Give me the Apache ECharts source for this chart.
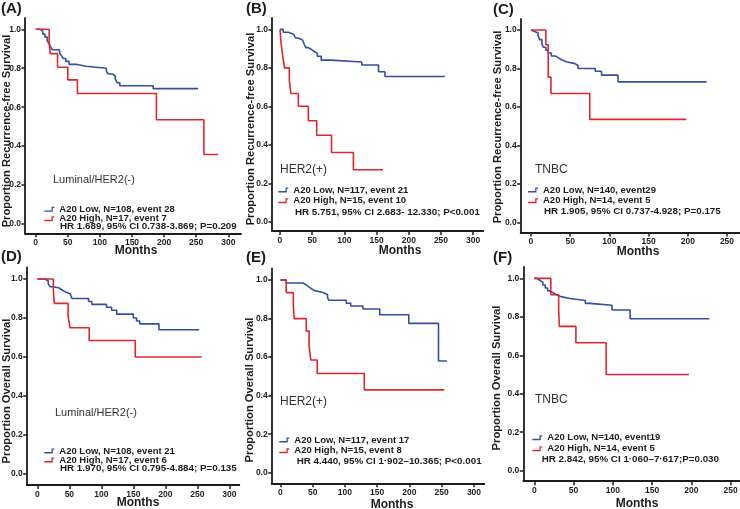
<!DOCTYPE html>
<html>
<head>
<meta charset="utf-8">
<script src="https://cdn.jsdelivr.net/npm/echarts@6/dist/echarts.min.js"></script>
<style>
  html, body { margin: 0; padding: 0; background: #fff; }
  #main { width: 740px; height: 509px; }
</style>
</head>
<body>
<div id="main"></div>
<script>
// tick values
const xTicks300 = [0, 50, 100, 150, 200, 250, 300]
const xTicks250 = [0, 50, 100, 150, 200, 250]
const yTicks = [0, 0.2, 0.4, 0.6, 0.8, 1.0]

// Kaplan-Meier steps [months, survival]
// (A) recurrence-free, Luminal/HER2(-)
const lowA = [[0, 1], [7, 0.99], [11, 0.975], [14.5, 0.96], [18, 0.94], [21, 0.925], [23, 0.91], [26, 0.895], [37, 0.88], [40, 0.865], [43, 0.85], [47, 0.835], [52, 0.82], [63, 0.81], [78, 0.80], [110, 0.785], [113, 0.77], [120, 0.76], [124, 0.745], [127, 0.725], [131, 0.71], [183, 0.695], [253, 0.695]]
const highA = [[0, 1], [21, 0.94], [22.5, 0.875], [34, 0.805], [50, 0.74], [65, 0.67], [188, 0.535], [262, 0.357], [284, 0.357]]
// (B) recurrence-free, HER2(+)
const lowB = [[0, 1], [5, 0.985], [13, 0.975], [21, 0.965], [24, 0.955], [28, 0.945], [35, 0.935], [38, 0.92], [40, 0.905], [44, 0.895], [49, 0.885], [53, 0.875], [58, 0.86], [64, 0.84], [79, 0.83], [127, 0.815], [153, 0.78], [163, 0.755], [256, 0.755]]
const highB = [[0, 1], [1.5, 0.933], [4, 0.867], [7, 0.80], [14.5, 0.733], [17, 0.667], [28.5, 0.60], [44, 0.525], [57, 0.45], [80, 0.36], [114, 0.27], [160, 0.27]]
// (C) recurrence-free, TNBC
const lowC = [[0, 1], [2, 0.99], [6, 0.985], [9, 0.97], [11, 0.95], [14, 0.925], [16, 0.91], [19, 0.895], [22, 0.88], [26, 0.865], [31, 0.855], [35, 0.845], [39, 0.835], [45, 0.825], [56, 0.815], [60, 0.80], [82, 0.785], [90, 0.765], [111, 0.73], [224, 0.73]]
const highC = [[0, 1], [19, 0.923], [22, 0.755], [25.5, 0.67], [75, 0.535], [198, 0.535]]
// (D) overall, Luminal/HER2(-)
const lowD = [[0, 1], [12, 0.99], [17, 0.975], [20, 0.96], [24, 0.955], [33, 0.945], [38, 0.935], [43, 0.925], [51, 0.915], [54, 0.90], [80, 0.885], [85, 0.87], [108, 0.855], [116, 0.84], [124, 0.82], [150, 0.80], [155, 0.785], [160, 0.77], [190, 0.74], [253, 0.74]]
const highD = [[0, 1], [25, 0.94], [26.5, 0.875], [48, 0.81], [51, 0.75], [81, 0.685], [153, 0.60], [257, 0.60]]
// (E) overall, HER2(+)
const lowE = [[0, 1], [9, 0.985], [35, 0.975], [40, 0.965], [44, 0.955], [48, 0.945], [53, 0.935], [66, 0.925], [73, 0.91], [75, 0.895], [102, 0.88], [109, 0.865], [128, 0.85], [154, 0.82], [199, 0.775], [245, 0.58], [258, 0.58]]
const highE = [[0, 1], [9, 0.935], [20, 0.867], [21.5, 0.80], [40, 0.735], [44.5, 0.66], [47, 0.585], [57, 0.515], [130, 0.43], [254, 0.43]]
// (F) overall, TNBC
const lowF = [[0, 1], [3, 0.99], [7, 0.98], [11, 0.965], [14, 0.95], [17, 0.935], [20, 0.925], [24, 0.915], [28.5, 0.905], [34, 0.895], [45.5, 0.885], [65, 0.87], [71, 0.86], [99, 0.835], [122, 0.79], [223, 0.79]]
const highF = [[0, 1], [21, 0.915], [31, 0.835], [32, 0.75], [53, 0.665], [91.5, 0.50], [197, 0.50]]

const panelLetters = ['(A)', '(B)', '(C)', '(D)', '(E)', '(F)']
const subtypes = ['Luminal/HER2(-)', 'HER2(+)', 'TNBC', 'Luminal/HER2(-)', 'HER2(+)', 'TNBC']
const yTitles = ['Proportion Recurrence-free Survival', 'Proportion Recurrence-free Survival', 'Proportion Recurrence-free Survival',
  'Proportion Overall Survival', 'Proportion Overall Survival', 'Proportion Overall Survival']
const lowLabels = ['A20 Low, N=108, event 28', 'A20 Low, N=117, event 21', 'A20 Low, N=140, event29',
  'A20 Low, N=108, event 21', 'A20 Low, N=117, event 17', 'A20 Low, N=140, event19']
const highLabels = ['A20 High, N=17, event 7', 'A20 High, N=15, event 10', 'A20 High, N=14, event 5',
  'A20 High, N=17, event 6', 'A20 High, N=15, event 8', 'A20 High, N=14, event 5']
const hrLabels = ['HR 1.689, 95% CI 0.738-3.869; P=0.209', 'HR 5.751, 95% CI 2.683- 12.330; P<0.001', 'HR 1.905, 95% CI 0.737-4.928; P=0.175',
  'HR 1.970, 95% CI 0.795-4.884; P=0.135', 'HR 4.440, 95% CI 1·902–10.365; P<0.001', 'HR 2.842, 95% CI 1·060–7·617;P=0.030']
const lowSeries = [lowA, lowB, lowC, lowD, lowE, lowF]
const highSeries = [highA, highB, highC, highD, highE, highF]

const FONT = 'Arial, "Liberation Sans", Helvetica, sans-serif'
const BLUE = '#31509f'
const RED = '#e2262d'
const INK = '#1c1c1c'

// layout of each panel (pixels) and axis spans
const panels = [
  { grid: [25, 18, 216, 215.3], xr: [-16.7, 319.8], yr: [-0.048, 1.058], xt: xTicks300,
    letter: [1, 9], yt: [7, 131], mo: [136, 251], sub: [53, 180], subSize: 11, leg: [59.3, 209.3, 218.7], hr: [60, 226] },
  { grid: [272, 18, 211.3, 213], xr: [-12.4, 315.7], yr: [-0.048, 1.059], xt: xTicks300,
    letter: [246, 9], yt: [251, 129], mo: [400, 251], sub: [280, 170], subSize: 12, leg: [293.3, 190, 200.7], hr: [295, 212] },
  { grid: [520.7, 19, 219.3, 213.5], xr: [-13.1, 266.6], yr: [-0.053, 1.057], xt: xTicks250,
    letter: [493, 10], yt: [498, 127], mo: [638, 252], sub: [535, 170], subSize: 12, leg: [543, 190, 200.7], hr: [544, 211.3] },
  { grid: [26.7, 267.5, 212.6, 217.5], xr: [-16.7, 315.6], yr: [-0.056, 1.059], xt: xTicks300,
    letter: [1, 257], yt: [7, 391], mo: [138, 503], sub: [55, 413], subSize: 11, leg: [59.3, 451, 460], hr: [60, 468] },
  { grid: [271.7, 268.5, 212.6, 214.8], xr: [-13.5, 316], yr: [-0.055, 1.06], xt: xTicks300,
    letter: [246, 258], yt: [250, 390], mo: [392, 505], sub: [280, 402], subSize: 12, leg: [294.3, 440, 450.7], hr: [296.7, 461.3] },
  { grid: [523.3, 267, 216.7, 214.2], xr: [-14, 262], yr: [-0.055, 1.059], xt: xTicks250,
    letter: [493, 258], yt: [497, 378], mo: [637, 504], sub: [535, 400], subSize: 12, leg: [547.3, 437.7, 448.7], hr: [541.7, 459.3] }
]

const legendNames = {}
const grids = []
const xAxes = []
const yAxes = []
const series = []
const legends = []
const graphics = []

const stepIcon = 'path://M0,3.6 L7.2,3.6 L7.2,0 L10,0 L10,1.3 L8.5,1.3 L8.5,5 L0,5 Z'

panels.forEach((p, i) => {
  grids.push({ left: p.grid[0], top: p.grid[1], width: p.grid[2], height: p.grid[3], outerBoundsMode: 'none' })
  xAxes.push({
    type: 'value', gridIndex: i, min: p.xr[0], max: p.xr[1],
    axisLine: { show: true, onZero: false, lineStyle: { color: INK, width: 1.8 } },
    axisTick: { show: true, customValues: p.xt, length: 4, lineStyle: { color: INK, width: 1.5 } },
    axisLabel: { customValues: p.xt, margin: 5, fontSize: 8.5, fontWeight: 'bold', color: INK, fontFamily: FONT },
    splitLine: { show: false }
  })
  yAxes.push({
    type: 'value', gridIndex: i, min: p.yr[0], max: p.yr[1],
    axisLine: { show: true, onZero: false, lineStyle: { color: INK, width: 1.8 } },
    axisTick: { show: true, customValues: yTicks, length: 3.5, lineStyle: { color: INK, width: 1.5 } },
    axisLabel: { customValues: yTicks, margin: 4, fontSize: 8.5, fontWeight: 'bold', color: INK, fontFamily: FONT,
      formatter: v => v.toFixed(1) },
    splitLine: { show: false }
  })
  const lowName = 'low' + i
  const highName = 'high' + i
  legendNames[lowName] = lowLabels[i]
  legendNames[highName] = highLabels[i]
  series.push({
    name: lowName, type: 'line', xAxisIndex: i, yAxisIndex: i, data: lowSeries[i], step: 'end',
    symbol: 'none', lineStyle: { color: BLUE, width: 1.6 }, itemStyle: { color: BLUE }, silent: true
  })
  series.push({
    name: highName, type: 'line', xAxisIndex: i, yAxisIndex: i, data: highSeries[i], step: 'end',
    symbol: 'none', lineStyle: { color: RED, width: 1.6 }, itemStyle: { color: RED }, silent: true
  })
  const rowGap = p.leg[2] - p.leg[1]
  legends.push({
    orient: 'vertical', left: p.leg[0] - 15, top: p.leg[1] - 5, padding: 0,
    itemWidth: 10, itemHeight: 5, itemGap: rowGap - 10, icon: stepIcon, selectedMode: false,
    itemStyle: { borderWidth: 0 },
    data: [lowName, highName],
    formatter: name => legendNames[name],
    textStyle: { fontSize: 9.5, fontWeight: 'bold', color: INK, fontFamily: FONT, lineHeight: 10 }
  })
  graphics.push(
    { type: 'text', x: p.letter[0], y: p.letter[1],
      style: { text: panelLetters[i], fontSize: 15, fontWeight: 'bold', fontFamily: FONT, fill: INK, textAlign: 'left', textVerticalAlign: 'middle' } },
    { type: 'text', x: p.yt[0], y: p.yt[1], rotation: Math.PI / 2,
      style: { text: yTitles[i], fontSize: 11.2, fontWeight: 'bold', fontFamily: FONT, fill: INK, textAlign: 'center', textVerticalAlign: 'middle' } },
    { type: 'text', x: p.mo[0], y: p.mo[1],
      style: { text: 'Months', fontSize: 12, fontWeight: 'bold', fontFamily: FONT, fill: INK, textAlign: 'center', textVerticalAlign: 'middle' } },
    { type: 'text', x: p.sub[0], y: p.sub[1],
      style: { text: subtypes[i], fontSize: p.subSize, fontFamily: FONT, fill: '#333', textAlign: 'left', textVerticalAlign: 'middle' } },
    { type: 'text', x: p.hr[0], y: p.hr[1],
      style: { text: hrLabels[i], fontSize: 9.8, fontWeight: 'bold', fontFamily: FONT, fill: INK, textAlign: 'left', textVerticalAlign: 'middle' } }
  )
})

const chart = echarts.init(document.getElementById('main'), null, { renderer: 'canvas' })
chart.setOption({
  animation: false,
  backgroundColor: '#fff',
  grid: grids,
  xAxis: xAxes,
  yAxis: yAxes,
  legend: legends,
  series: series,
  graphic: graphics
})
</script>
</body>
</html>
